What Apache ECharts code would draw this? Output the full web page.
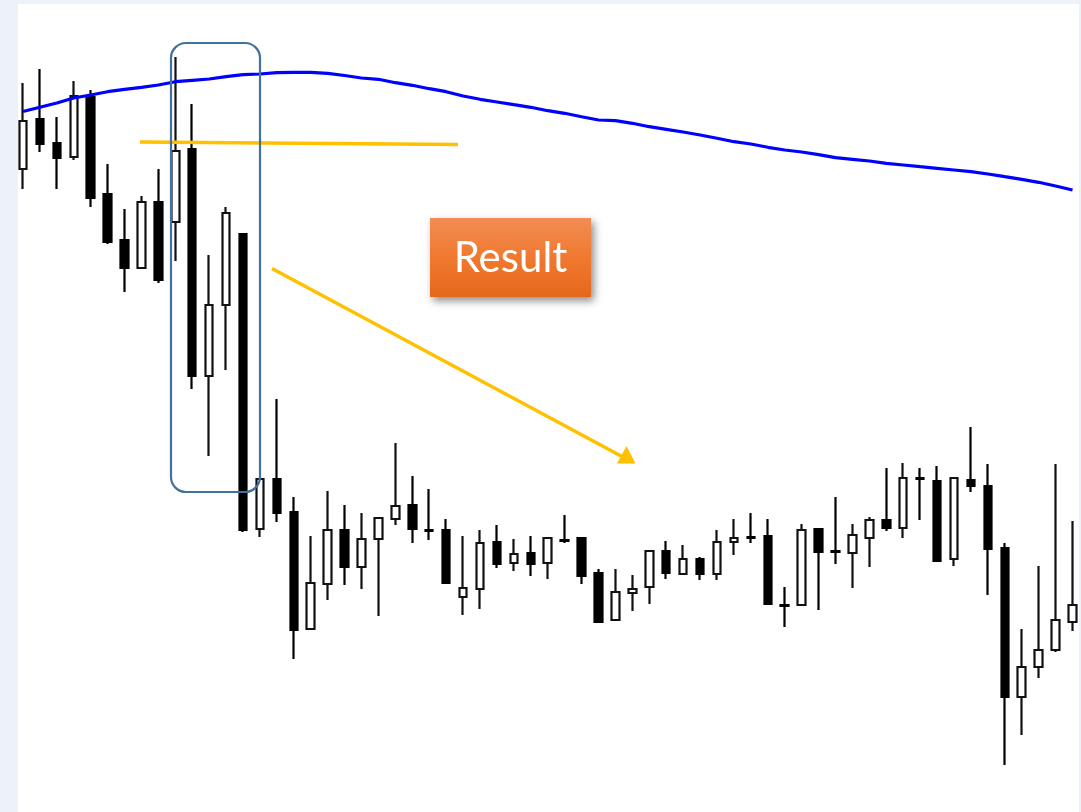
<!DOCTYPE html>
<html>
<head>
<meta charset="utf-8">
<script src="https://cdn.jsdelivr.net/npm/echarts@6/dist/echarts.min.js"></script>
<style>
html,body{margin:0;padding:0;background:#EDF2F9;}
#chart{width:1081px;height:812px;}
</style>
</head>
<body>
<div id="chart"></div>
<script>
// Bars (categories) – one per session
var categories = [];
for (var k = 1; k <= 63; k++) categories.push('D' + k);

// price values: [open, close, low, high]
var opens  = [643,693,669,655,715,618,572,544,610,590,663,436,507,578,283,333,300,183,228,282,245,273,293,307,282,282,215,223,270,249,259,249,272,274,239,192,219,225,261,238,253,238,270,275,276,207,207,283,261,259,274,292,284,334,331,253,332,326,264,115,145,162,190];
var closes = [691,668,654,716,614,570,544,610,532,661,436,507,599,282,333,299,182,229,282,245,273,294,306,283,281,229,224,269,248,258,248,274,271,236,190,220,223,261,239,253,238,270,274,274,208,206,282,260,260,277,292,284,334,333,251,334,326,263,115,145,162,192,207];
var lows   = [623,660,623,652,605,568,520,544,529,551,423,356,442,280,275,290,153,183,212,227,223,196,287,269,272,228,197,203,244,241,236,233,269,228,189,192,201,208,233,238,232,232,257,269,207,185,207,202,248,224,245,281,274,292,251,246,320,217,47,77,134,160,181];
var highs  = [729,743,695,731,722,648,603,616,643,755,708,557,605,578,333,413,315,276,321,307,299,295,369,336,323,293,276,282,287,273,276,274,297,274,243,243,237,262,271,267,255,282,293,299,293,225,288,283,315,288,295,344,349,344,346,334,385,348,269,183,246,348,291];

// moving average values
var maValues = [700.5,704.7,709,714,717,720.3,722.7,724.7,727,730.3,731.7,733,735.3,737.3,738,739.3,739.7,739.7,738.7,736.5,734,732.7,729.3,726.7,723.3,720.3,716,712.7,710,707.3,704.7,701.3,698.7,695.3,692,691.3,688.7,685.3,682.7,680,677,673.7,670.3,668,664.7,662,660,657.3,654.3,652.7,651,648.7,647,645.3,643.7,642,640.3,638,635.3,632.7,629.7,626,622];

var annotationText = 'Result';

var candleData = [];
for (var i = 0; i < categories.length; i++) {
  candleData.push([opens[i], closes[i], lows[i], highs[i]]);
}

var chart = echarts.init(document.getElementById('chart'), null, {renderer: 'canvas'});
var option = {
  backgroundColor: '#EDF2F9',
  animation: false,
  grid: {left: 14.5, right: 0, top: 0, bottom: 0, containLabel: false},
  xAxis: {
    type: 'category', data: categories, boundaryGap: true,
    axisLine: {show: false}, axisTick: {show: false}, axisLabel: {show: false}, splitLine: {show: false}
  },
  yAxis: {
    type: 'value', min: 0, max: 812,
    axisLine: {show: false}, axisTick: {show: false}, axisLabel: {show: false}, splitLine: {show: false}
  },
  series: [
    {
      type: 'candlestick',
      data: candleData,
      barWidth: 8,
      itemStyle: {
        color: '#ffffff', color0: '#000000',
        borderColor: '#111111', borderColor0: '#000000',
        borderWidth: 2.2
      },
      z: 3
    },
    {
      type: 'line',
      data: maValues,
      symbol: 'none',
      smooth: false,
      lineStyle: {color: '#0000FF', width: 3.2},
      z: 4
    }
  ],
  graphic: [
    {type: 'rect', z: -10, silent: true, shape: {x: 18, y: 4, width: 1061, height: 808}, style: {fill: '#ffffff'}},
    {type: 'line', z: 50, shape: {x1: 140, y1: 142, x2: 458, y2: 144.5}, style: {stroke: '#FFC000', lineWidth: 3.5}},
    {type: 'line', z: 50, shape: {x1: 272, y1: 268.5, x2: 622, y2: 456.5}, style: {stroke: '#FFC000', lineWidth: 3.5}},
    {type: 'polygon', z: 50, shape: {points: [[635.5, 463.5], [617, 463.5], [626.5, 446]]}, style: {fill: '#FFC000'}},
    {type: 'rect', z: 50, shape: {x: 171, y: 43, width: 89, height: 449, r: 15}, style: {fill: 'none', stroke: '#41719C', lineWidth: 2.2}},
    {
      type: 'rect', z: 60,
      shape: {x: 430, y: 218, width: 161, height: 79},
      style: {
        fill: new echarts.graphic.LinearGradient(0, 0, 0, 1, [
          {offset: 0, color: '#F28C55'},
          {offset: 0.5, color: '#F0792F'},
          {offset: 1, color: '#E4681A'}
        ]),
        shadowBlur: 8, shadowOffsetX: 3, shadowOffsetY: 4, shadowColor: 'rgba(0,0,0,0.45)'
      }
    },
    {
      type: 'text', z: 61,
      style: {
        text: annotationText, x: 510.5, y: 258, align: 'center', verticalAlign: 'middle',
        fill: '#ffffff', font: '42px Lato, "Open Sans", sans-serif'
      }
    }
  ]
};
chart.setOption(option);
</script>
</body>
</html>
